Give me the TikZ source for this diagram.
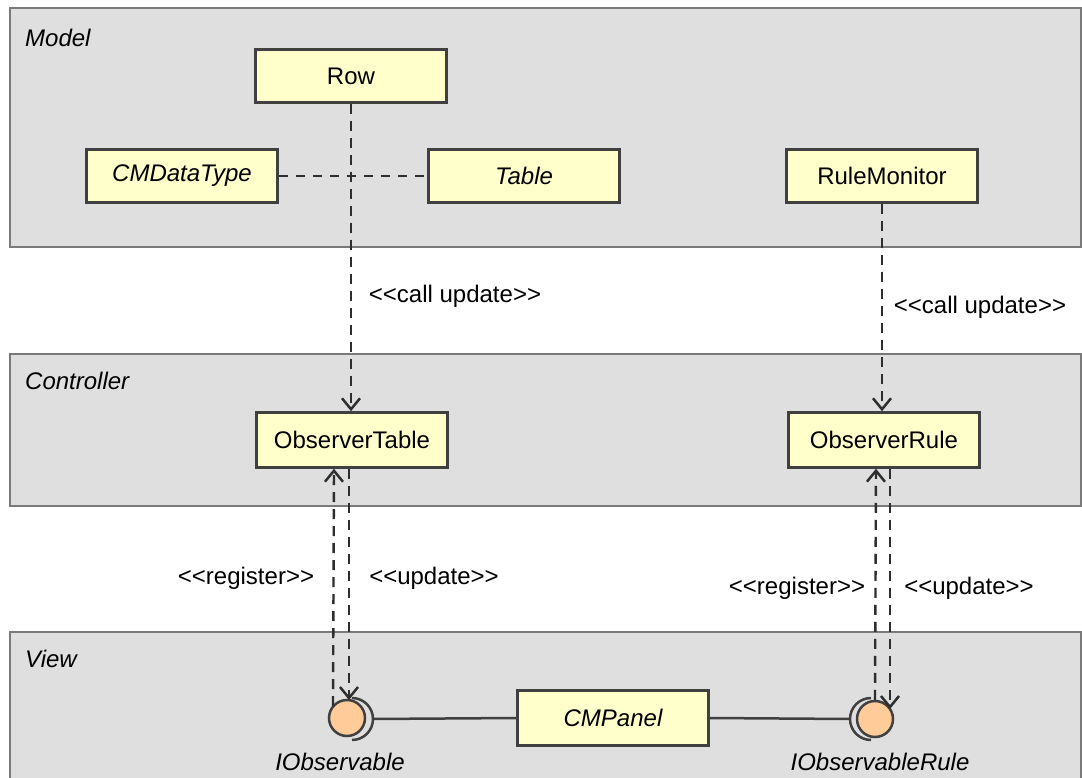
\documentclass[tikz,border=0pt]{standalone}
\usepackage{fontspec}
\setmainfont{Liberation Sans}
\usetikzlibrary{arrows.meta,calc}
\definecolor{panelfill}{HTML}{DFDFDF}
\definecolor{panelline}{HTML}{7A7A7A}
\definecolor{boxfill}{HTML}{FFFFCC}
\definecolor{boxline}{HTML}{404040}
\definecolor{ifill}{HTML}{FFCC99}
\definecolor{linkcol}{HTML}{2E2E2E}
% stereotype brackets kept as plain angle brackets
\newcommand{\stl}{<\kern0pt<}
\newcommand{\str}{>\kern0pt>}
\begin{document}
\begin{tikzpicture}[x=1pt,y=-1pt,
  txt/.style={font=\fontsize{24}{28}\selectfont},
  itxt/.style={font=\fontsize{24}{28}\selectfont\itshape},
  panel/.style={fill=panelfill,draw=panelline,line width=1.6pt},
  paneltitle/.style={itxt,anchor=west,inner sep=0},
  cls/.style={draw=boxline,fill=boxfill,line width=2.5pt,minimum width=191pt,minimum height=53pt,inner sep=0,txt},
  iface/.style={circle,draw=boxline,fill=ifill,line width=2.5pt,minimum size=36pt,inner sep=0},
  socket/.style={draw=boxline,line width=2.5pt},
  dep/.style={draw=linkcol,line width=2.4pt,dash pattern=on 10pt off 7pt,-{Straight Barb[length=11pt,width=18pt,line width=2.5pt]}},
  assoc/.style={draw=linkcol,line width=2.4pt,dash pattern=on 9pt off 8pt},
  solidlink/.style={draw=boxline,line width=2.5pt},
  stereo/.style={txt,inner sep=0}]
\useasboundingbox (0,0) rectangle (1082,778);
\clip (0,0) rectangle (1082,778);
\fill[white] (0,0) rectangle (1082,778);

% layers
\draw[panel] (10,8) rectangle (1081,247);
\draw[panel] (10,354) rectangle (1081,506);
\draw[panel] (10,632) rectangle (1081,790);
\node[paneltitle] (tmodel) at (25,38) {Model};
\node[paneltitle] (tctrl) at (25,381) {Controller};
\node[paneltitle] (tview) at (25,659) {View};

% model classes
\node[cls] (row) at (351,76) {Row};
\node[cls,itxt] (dtype) at (182,176) {CMDataType};
\node[cls,itxt] (table) at (524,176) {Table};
\node[cls] (rmon) at (882,176) {RuleMonitor};

% controller classes
\node[cls,minimum height=55pt] (obst) at (352,440) {ObserverTable};
\node[cls,minimum height=55pt] (obsr) at (884,440) {ObserverRule};

% view
\node[cls,minimum height=55pt,itxt] (panelc) at (613,718) {CMPanel};

% provided/required interfaces (y axis points down, so angle -90 is up)
\draw[socket] (352,698) arc[start angle=-90,end angle=90,radius=21];
\draw[socket] (871,698) arc[start angle=270,end angle=90,radius=21];
\coordinate (sockl) at (373,719);
\coordinate (sockr) at (850,719);
\node[iface] (iobs) at (347,718) {};
\node[iface] (iobsr) at (875,719) {};
\node[itxt] (liobs) at (340,762) {IObservable};
\node[itxt] (liobsr) at (880,762) {IObservableRule};

\draw[solidlink] (sockl) -- (panelc.west);
\draw[solidlink] (panelc.east) -- (sockr);

% associations and dependencies
\draw[assoc] (dtype.east) -- (table.west);
\draw[dep] (row.south) -- ($(obst.north)+(-1,0)$);
\draw[dep] (rmon.south) -- ($(obsr.north)+(-2,0)$);
\draw[dep] ($(iobs.center)+(-14,-12)$) -- ($(obst.south)+(-18,0)$);
\draw[dep] ($(obst.south)+(-3,0)$) -- ($(iobs.center)+(2,-18)$);
\draw[dep] (iobsr.north) -- ($(obsr.south)+(-8,0)$);
\draw[dep] ($(obsr.south)+(6,0)$) -- ($(iobsr.center)+(15,-10)$);

% stereotype labels
\node[stereo] (lcall1) at (455,296) {\stl call update\str};
\node[stereo] (lcall2) at (980,307) {\stl call update\str};
\node[stereo] (lreg1) at (246,578) {\stl register\str};
\node[stereo] (lupd1) at (434,578) {\stl update\str};
\node[stereo] (lreg2) at (797,588) {\stl register\str};
\node[stereo] (lupd2) at (969,588) {\stl update\str};
\end{tikzpicture}
\end{document}
